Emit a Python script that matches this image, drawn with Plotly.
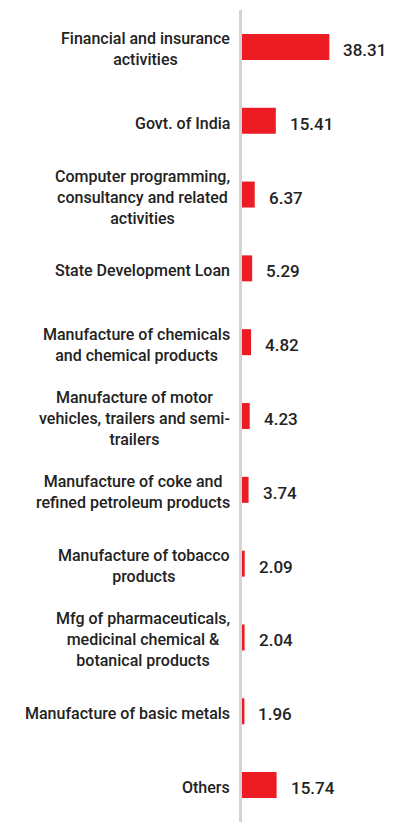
import plotly.graph_objects as go

categories = [
    "Financial and insurance<br>activities",
    "Govt. of India",
    "Computer programming,<br>consultancy and related<br>activities",
    "State Development Loan",
    "Manufacture of chemicals<br>and chemical products",
    "Manufacture of motor<br>vehicles, trailers and semi-<br>trailers",
    "Manufacture of coke and<br>refined petroleum products",
    "Manufacture of tobacco<br>products",
    "Mfg of pharmaceuticals,<br>medicinal chemical &<br>botanical products",
    "Manufacture of basic metals",
    "Others",
]
values = [38.31, 15.41, 6.37, 5.29, 4.82, 4.23, 3.74, 2.09, 2.04, 1.96, 15.74]
value_labels = ["38.31", "15.41", "6.37", "5.29", "4.82", "4.23", "3.74", "2.09", "2.04", "1.96", "15.74"]

BAR_COLOR = "#ed1c24"
TEXT_COLOR = "#222222"
FONT = "Roboto"

ids = list(range(len(categories)))

fig = go.Figure()
fig.add_trace(go.Bar(
    y=ids,
    x=values,
    orientation="h",
    marker=dict(color=BAR_COLOR, line=dict(width=0)),
    hoverinfo="skip",
))

annotations = []
for i, (cat, v, lab) in enumerate(zip(categories, values, value_labels)):
    annotations.append(dict(
        x=0, xref="paper", y=i, yref="y",
        text=cat, showarrow=False,
        xanchor="right", yanchor="middle", align="center",
        xshift=-10, yshift=-2.5,
        font=dict(family=FONT, size=16, color=TEXT_COLOR, weight=500),
    ))
    annotations.append(dict(
        x=v, xref="x", y=i, yref="y",
        text=lab, showarrow=False,
        xanchor="left", yanchor="middle",
        xshift=12, yshift=-3,
        font=dict(family=FONT, size=17, color=TEXT_COLOR, weight=500),
    ))

# page body has an 8px margin, so the figure is sized to fit the window
fig.update_layout(
    width=390, height=823,
    margin=dict(l=234, r=0, t=2, b=9),
    paper_bgcolor="white", plot_bgcolor="white",
    showlegend=False,
    bargap=0.648,
    annotations=annotations,
    xaxis=dict(visible=False, range=[0.93, 0.93 + 156 / 2.336], fixedrange=True),
    yaxis=dict(
        range=[len(categories) - 0.5, -0.5],
        showticklabels=False, ticks="", showgrid=False, zeroline=False,
        showline=True, linewidth=3, linecolor="#d4d4d4",
        fixedrange=True,
    ),
)

fig.write_html("out.html")
